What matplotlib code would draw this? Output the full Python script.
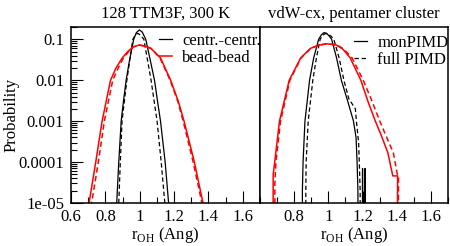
import matplotlib
matplotlib.use("Agg")
import matplotlib.pyplot as plt
from matplotlib.ticker import MultipleLocator, FixedLocator, LogLocator

# ---- left panel: 128 TTM3F, 300 K ----
cc_x = [0.855, 0.866, 0.878, 0.892, 0.905, 0.921, 0.940, 0.965, 0.980, 0.998,
        1.015, 1.035, 1.062, 1.086, 1.104, 1.121, 1.148, 1.168, 1.178]
cc_p = [3e-6, 1e-5, 1e-4, 1e-3, 3e-3, 1e-2, 3e-2, 0.1, 0.145, 0.17,
        0.15, 0.1, 0.03, 1e-2, 3e-3, 1e-3, 1e-4, 1e-5, 3e-6]

cc2_x = [0.868, 0.878, 0.887, 0.897, 0.925, 0.960, 0.975, 0.990,
         1.005, 1.024, 1.066, 1.101, 1.125, 1.146, 1.155]
cc2_p = [3e-6, 1e-5, 1e-4, 1e-3, 1e-2, 0.1, 0.13, 0.14,
         0.125, 0.1, 1e-2, 1e-3, 1e-4, 1e-5, 3e-6]

bb_x = [0.695, 0.705, 0.744, 0.781, 0.830, 0.862, 0.898, 0.930, 0.960, 0.995,
        1.030, 1.066, 1.121, 1.180, 1.225, 1.258, 1.318, 1.368, 1.380]
bb_p = [3e-6, 1e-5, 1e-4, 1e-3, 1e-2, 0.02, 0.035, 0.05, 0.065, 0.072,
        0.068, 0.06, 0.035, 1e-2, 3e-3, 1e-3, 1e-4, 1e-5, 3e-6]

bb2_x = [0.710, 0.720, 0.759, 0.794, 0.843, 0.875, 0.905, 0.935, 0.962, 0.997,
         1.030, 1.065, 1.118, 1.177, 1.222, 1.253, 1.311, 1.362, 1.372]
bb2_p = [3e-6, 1e-5, 1e-4, 1e-3, 1e-2, 0.02, 0.035, 0.05, 0.065, 0.073,
         0.069, 0.06, 0.035, 1e-2, 3e-3, 1e-3, 1e-4, 1e-5, 3e-6]

# ---- right panel: vdW-cx, pentamer cluster ----
mon_x = [0.845, 0.848, 0.852, 0.863, 0.890, 0.914, 0.943, 0.960, 0.975, 0.990,
         1.005, 1.019, 1.048, 1.076, 1.114, 1.147, 1.162, 1.168, 1.173, 1.175,
         1.198, 1.200, 1.202, 1.213, 1.215, 1.217]
mon_p = [0, 2e-5, 1e-4, 1e-3, 1e-2, 0.035, 0.1, 0.13, 0.146, 0.14,
         0.12, 0.1, 0.035, 1e-2, 3e-3, 1e-3, 4e-4, 1e-4, 2e-5, 0,
         0, 7e-5, 0, 0, 7e-5, 0]

full_x = [0.866, 0.868, 0.870, 0.882, 0.909, 0.930, 0.952, 0.967, 0.981, 0.997,
          1.015, 1.032, 1.063, 1.091, 1.120, 1.143, 1.158, 1.164, 1.177, 1.181,
          1.186, 1.188]
full_p = [0, 2e-5, 1e-4, 1e-3, 1e-2, 0.035, 0.1, 0.125, 0.138, 0.135,
          0.12, 0.1, 0.035, 1e-2, 3.5e-3, 2.5e-3, 2e-3, 1e-3, 3e-4, 1e-4,
          2e-5, 0]

monb_x = [0.675, 0.677, 0.686, 0.714, 0.771, 0.838, 0.895, 0.943, 0.990,
          1.048, 1.086, 1.128, 1.190, 1.232, 1.275, 1.305, 1.348, 1.377,
          1.405, 1.406]
monb_p = [0, 4.9e-5, 1e-4, 1e-3, 1e-2, 0.035, 0.06, 0.072, 0.078,
          0.072, 0.057, 0.035, 1e-2, 3e-3, 1e-3, 5e-4, 1.7e-4, 4.6e-5,
          4.6e-5, 0]

fullb_x = [0.685, 0.687, 0.693, 0.720, 0.775, 0.840, 0.897, 0.945, 0.995,
           1.050, 1.092, 1.139, 1.204, 1.250, 1.301, 1.329, 1.380, 1.405,
           1.410, 1.412]
fullb_p = [0, 3e-5, 1e-4, 1e-3, 1e-2, 0.035, 0.06, 0.072, 0.078,
           0.073, 0.057, 0.035, 1e-2, 3.5e-3, 1e-3, 5.3e-4, 1.7e-4, 4.6e-5,
           4.6e-5, 0]

ytick_vals = [1e-5, 1e-4, 1e-3, 1e-2, 1e-1]
ytick_labels = ["1e-05", "0.0001", "0.001", "0.01", "0.1"]

plt.rcParams["font.family"] = "serif"
plt.rcParams["font.serif"] = ["Liberation Serif", "DejaVu Serif"]
plt.rcParams["mathtext.fontset"] = "custom"
plt.rcParams["mathtext.rm"] = "Liberation Serif"
plt.rcParams["font.size"] = 12

fig = plt.figure(figsize=(4.5, 2.46), dpi=100)
W, H = 450.0, 246.0
ax1 = fig.add_axes([71 / W, 1 - 203 / H, 189 / W, 176 / H])
ax2 = fig.add_axes([260 / W, 1 - 203 / H, 188 / W, 176 / H], sharey=ax1)

blk_lw = 0.9
red_lw = 1.1
dash = (0, (3.5, 2.2))

ax1.plot(cc_x, cc_p, color="black", lw=blk_lw, label="centr.-centr.")
ax1.plot(cc2_x, cc2_p, color="black", lw=blk_lw, ls=dash)
ax1.plot(bb_x, bb_p, color="red", lw=red_lw, label="bead-bead")
ax1.plot(bb2_x, bb2_p, color="red", lw=red_lw, ls=dash)

ax2.plot(mon_x, mon_p, color="black", lw=blk_lw, label="monPIMD")
ax2.plot(full_x, full_p, color="black", lw=blk_lw, ls=dash, label="full PIMD")
ax2.plot(monb_x, monb_p, color="red", lw=red_lw)
ax2.plot(fullb_x, fullb_p, color="red", lw=red_lw, ls=dash)

ax1.set_yscale("log")
ax1.set_ylim(1e-5, 0.2)
ax1.yaxis.set_major_locator(FixedLocator(ytick_vals))
ax1.set_yticklabels(ytick_labels)
ax1.yaxis.set_minor_locator(LogLocator(base=10, subs=range(2, 10)))

for ax in (ax1, ax2):
    ax.set_xlim(0.6, 1.7)
    ax.xaxis.set_minor_locator(MultipleLocator(0.1))
    ax.tick_params(which="both", direction="in", top=False, right=False,
                   width=0.8, colors="black")
    ax.tick_params(which="major", length=8.5, pad=4)
    ax.tick_params(which="minor", length=4.5)
    ax.tick_params(axis="y", which="major", pad=5)
    for s in ax.spines.values():
        s.set_linewidth(1.1)
    ax.set_xlabel(r"r$_{\rm OH}$ (Ang)")
    ax.xaxis.set_label_coords(0.5, -0.125)

ax1.set_xticks([0.6, 0.8, 1.0, 1.2, 1.4, 1.6])
ax1.set_xticklabels(["0.6", "0.8", "1", "1.2", "1.4", "1.6"])
ax2.set_xticks([0.8, 1.0, 1.2, 1.4, 1.6])
ax2.set_xticklabels(["0.8", "1", "1.2", "1.4", "1.6"])
ax2.tick_params(axis="y", which="both", left=False, labelleft=False)

ax1.set_ylabel("Probability")
ax1.yaxis.set_label_coords(-0.275, 0.5)

ax1.set_title("128 TTM3F, 300 K", pad=6.5, fontsize=12)
ax2.set_title("vdW-cx, pentamer cluster", pad=6.5, fontsize=12)

leg_kw = dict(frameon=False, loc="upper left", borderaxespad=0, borderpad=0,
              handlelength=0.75, handletextpad=0.65, labelspacing=0.05,
              fontsize=12)
ax1.legend(bbox_to_anchor=(0.466, 0.965), **leg_kw)
ax2.legend(bbox_to_anchor=(0.50, 0.955), **leg_kw)

fig.savefig("out.png", dpi=100)
